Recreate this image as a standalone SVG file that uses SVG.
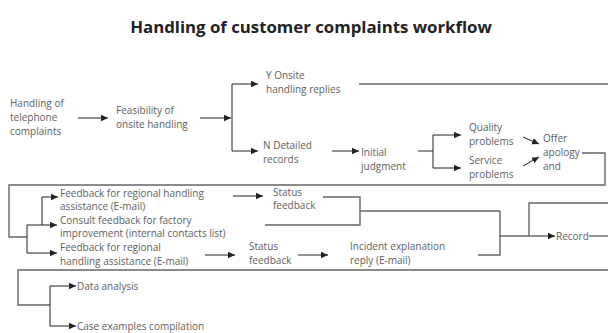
<svg xmlns="http://www.w3.org/2000/svg" width="608" height="333" viewBox="0 0 608 333">
<style>
text{font-family:"Open Sans","Noto Sans",sans-serif;font-size:10px;fill:#5e5e5e}
.title{font-size:16.8px;font-weight:bold;fill:#222}
.a{stroke:#222;stroke-width:1;fill:none;marker-end:url(#ah)}
.l{stroke:#222;stroke-width:1;fill:none}
.g{stroke:#666;stroke-width:1.4;fill:none}
</style>
<defs>
<marker id="ah" markerUnits="userSpaceOnUse" markerWidth="8" markerHeight="8" refX="7" refY="4" orient="auto">
<path d="M0,0.8 L7,4 L0,7.2 Z" fill="#222"/>
</marker>
</defs>
<rect width="608" height="333" fill="#fff"/>
<text class="title" x="311" y="33" text-anchor="middle">Handling of customer complaints workflow</text>

<g id="connectors">
<line class="a" x1="78" y1="118" x2="108" y2="118"/>
<line class="a" x1="200" y1="118" x2="231" y2="118"/>
<line class="l" x1="232" y1="84" x2="232" y2="151"/>
<line class="a" x1="232" y1="84" x2="258" y2="84"/>
<line class="a" x1="232" y1="151" x2="258" y2="151"/>
<line class="l" x1="359" y1="84" x2="608" y2="84"/>
<line class="a" x1="332" y1="151" x2="359" y2="151"/>
<polyline class="l" points="418,151 433,151"/>
<line class="l" x1="433" y1="135" x2="433" y2="168"/>
<line class="a" x1="433" y1="135" x2="461" y2="135"/>
<line class="a" x1="433" y1="168" x2="461" y2="168"/>
<line class="a" x1="523" y1="137" x2="539" y2="144"/>
<line class="a" x1="523" y1="166" x2="539" y2="157"/>
<polyline class="g" points="582,153 605,153 605,185 9,185 9,237 27,237"/>
<line class="l" x1="27" y1="225" x2="27" y2="253"/>
<line class="a" x1="27" y1="225" x2="57" y2="225"/>
<line class="a" x1="27" y1="253" x2="57" y2="253"/>
<polyline class="a" points="42,225 42,197 58,197"/>
<line class="a" x1="233" y1="196" x2="263" y2="196"/>
<polyline class="g" points="323,197 360,197 360,225 265,225"/>
<line class="g" x1="360" y1="211" x2="500" y2="211"/>
<line class="a" x1="205" y1="255" x2="235" y2="255"/>
<line class="a" x1="298" y1="255" x2="328" y2="255"/>
<polyline class="g" points="478,255 500,255 500,211"/>
<line class="a" x1="500" y1="236" x2="555" y2="236"/>
<polyline class="g" points="529,236 529,203 608,203"/>
<line class="g" x1="589" y1="236" x2="608" y2="236"/>
<polyline class="g" points="608,270 18,270 18,305 50,305"/>
<line class="l" x1="50" y1="286" x2="50" y2="326"/>
<line class="a" x1="50" y1="286" x2="76" y2="286"/>
<line class="a" x1="50" y1="326" x2="76" y2="326"/>
</g>

<g id="n-telephone"><text x="10" y="107">Handling of</text><text x="10" y="121">telephone</text><text x="10" y="135">complaints</text></g>
<g id="n-feasibility"><text x="116" y="114">Feasibility of</text><text x="116" y="128">onsite handling</text></g>
<g id="n-onsite"><text x="266" y="79">Y Onsite</text><text x="266" y="93">handling replies</text></g>
<g id="n-detailed"><text x="263" y="149">N Detailed</text><text x="263" y="163">records</text></g>
<g id="n-initial"><text x="361" y="156">Initial</text><text x="361" y="170">judgment</text></g>
<g id="n-quality"><text x="469" y="131">Quality</text><text x="469" y="145">problems</text></g>
<g id="n-service"><text x="469" y="164">Service</text><text x="469" y="178">problems</text></g>
<g id="n-apology"><text x="543" y="142">Offer</text><text x="543" y="156">apology</text><text x="543" y="170">and</text></g>
<g id="n-feedback1"><text x="60" y="197">Feedback for regional handling</text><text x="60" y="210">assistance (E-mail)</text></g>
<g id="n-consult"><text x="60" y="224">Consult feedback for factory</text><text x="60" y="237">improvement (internal contacts list)</text></g>
<g id="n-feedback2"><text x="60" y="251">Feedback for regional</text><text x="60" y="265">handling assistance (E-mail)</text></g>
<g id="n-status1"><text x="273" y="196">Status</text><text x="273" y="209">feedback</text></g>
<g id="n-status2"><text x="249" y="250">Status</text><text x="249" y="264">feedback</text></g>
<g id="n-incident"><text x="350" y="250">Incident explanation</text><text x="350" y="264">reply (E-mail)</text></g>
<g id="n-record"><text x="556" y="240">Record</text></g>
<g id="n-data"><text x="77" y="290">Data analysis</text></g>
<g id="n-case"><text x="77" y="330">Case examples compilation</text></g>
</svg>
